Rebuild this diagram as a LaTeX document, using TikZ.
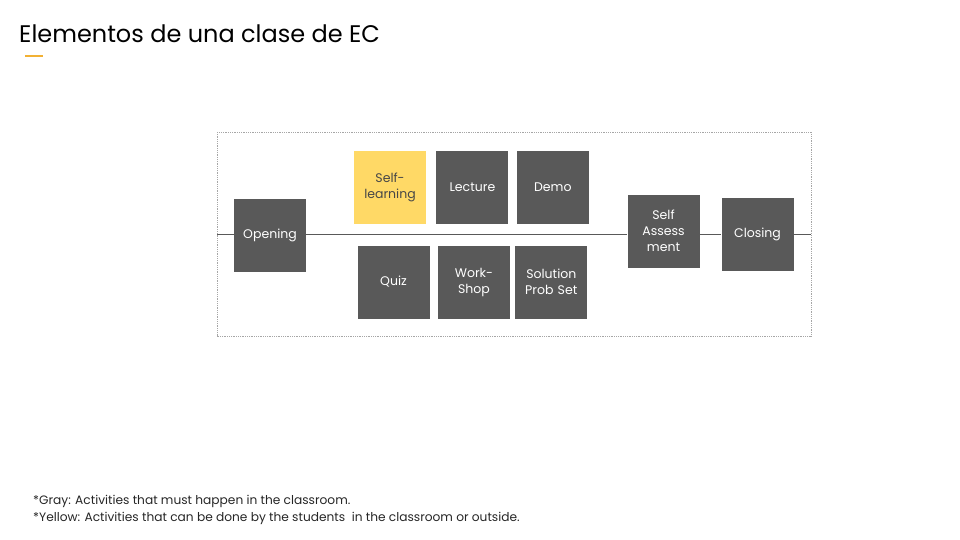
\documentclass[tikz,border=0pt]{standalone}
\usepackage{fontspec}
\setmainfont{Poppins}
\usetikzlibrary{positioning}

\definecolor{boxgray}{HTML}{595959}
\definecolor{selfyellow}{HTML}{FFD966}
\definecolor{accent}{HTML}{F2B134}
\definecolor{framegray}{HTML}{A6A6A6}

\begin{document}
\begin{tikzpicture}[
    x=1pt, y=-1pt,
    node distance=8pt and 8pt,
    activity/.style={rectangle, fill=boxgray, text=white, minimum width=72pt, minimum height=73pt, text width=70pt, align=center, inner sep=0pt, font=\fontsize{12.5}{16}\selectfont},
    optional/.style={activity, fill=selfyellow, text=boxgray!80!black},
    timeline/.style={draw=boxgray, line width=1pt},
    frame/.style={draw=framegray, densely dotted, line width=0.8pt},
    note/.style={anchor=base west, inner sep=0pt, font=\fontsize{12.2}{14}\selectfont, text=black!85}
]
    \useasboundingbox (0,0) rectangle (960,540);

    % title and accent bar
    \node[anchor=base west, inner sep=0pt, font=\fontsize{24}{28}\selectfont] (title) at (19,43) {Elementos de una clase de EC};
    \draw[accent, line width=2pt] (25,56) -- (43,56);

    % dotted frame and the line through the class
    \draw[frame] (217,132) rectangle (811,336);
    \coordinate (lineL) at (217,234);
    \coordinate (lineR) at (811,234);

    \node[activity] (opening) at (270,235.5) {Opening};
    \node[optional] (selflearn) at (390,187.5) {Self-\\learning};
    \node[activity, right=10pt of selflearn] (lecture) {Lecture};
    \node[activity, right=of lecture] (demo) {Demo};
    \node[activity] (quiz) at (393.5,282) {Quiz};
    \node[activity, right=of quiz] (workshop) {Work-\\Shop};
    \node[activity, right=5pt of workshop] (solution) {Solution\\Prob Set};
    \node[activity] (selfassess) at (663.5,231) {Self\\Assess\\ment};
    \node[activity] (closing) at (757.5,234) {Closing};

    \draw[timeline] (lineL) -- (lineL -| opening.west);
    \draw[timeline] (lineL -| opening.east) -- (lineL -| selfassess.west);
    \draw[timeline] (lineL -| selfassess.east) -- (closing.west);
    \draw[timeline] (closing.east) -- (lineR);

    % legend
    \node[note] (graynote) at (33,504) {*Gray: Activities that must happen in the classroom.};
    \node[note] (yellownote) at (33,521) {*Yellow: Activities that can be done by the students\ \ in the classroom or outside.};
\end{tikzpicture}
\end{document}
